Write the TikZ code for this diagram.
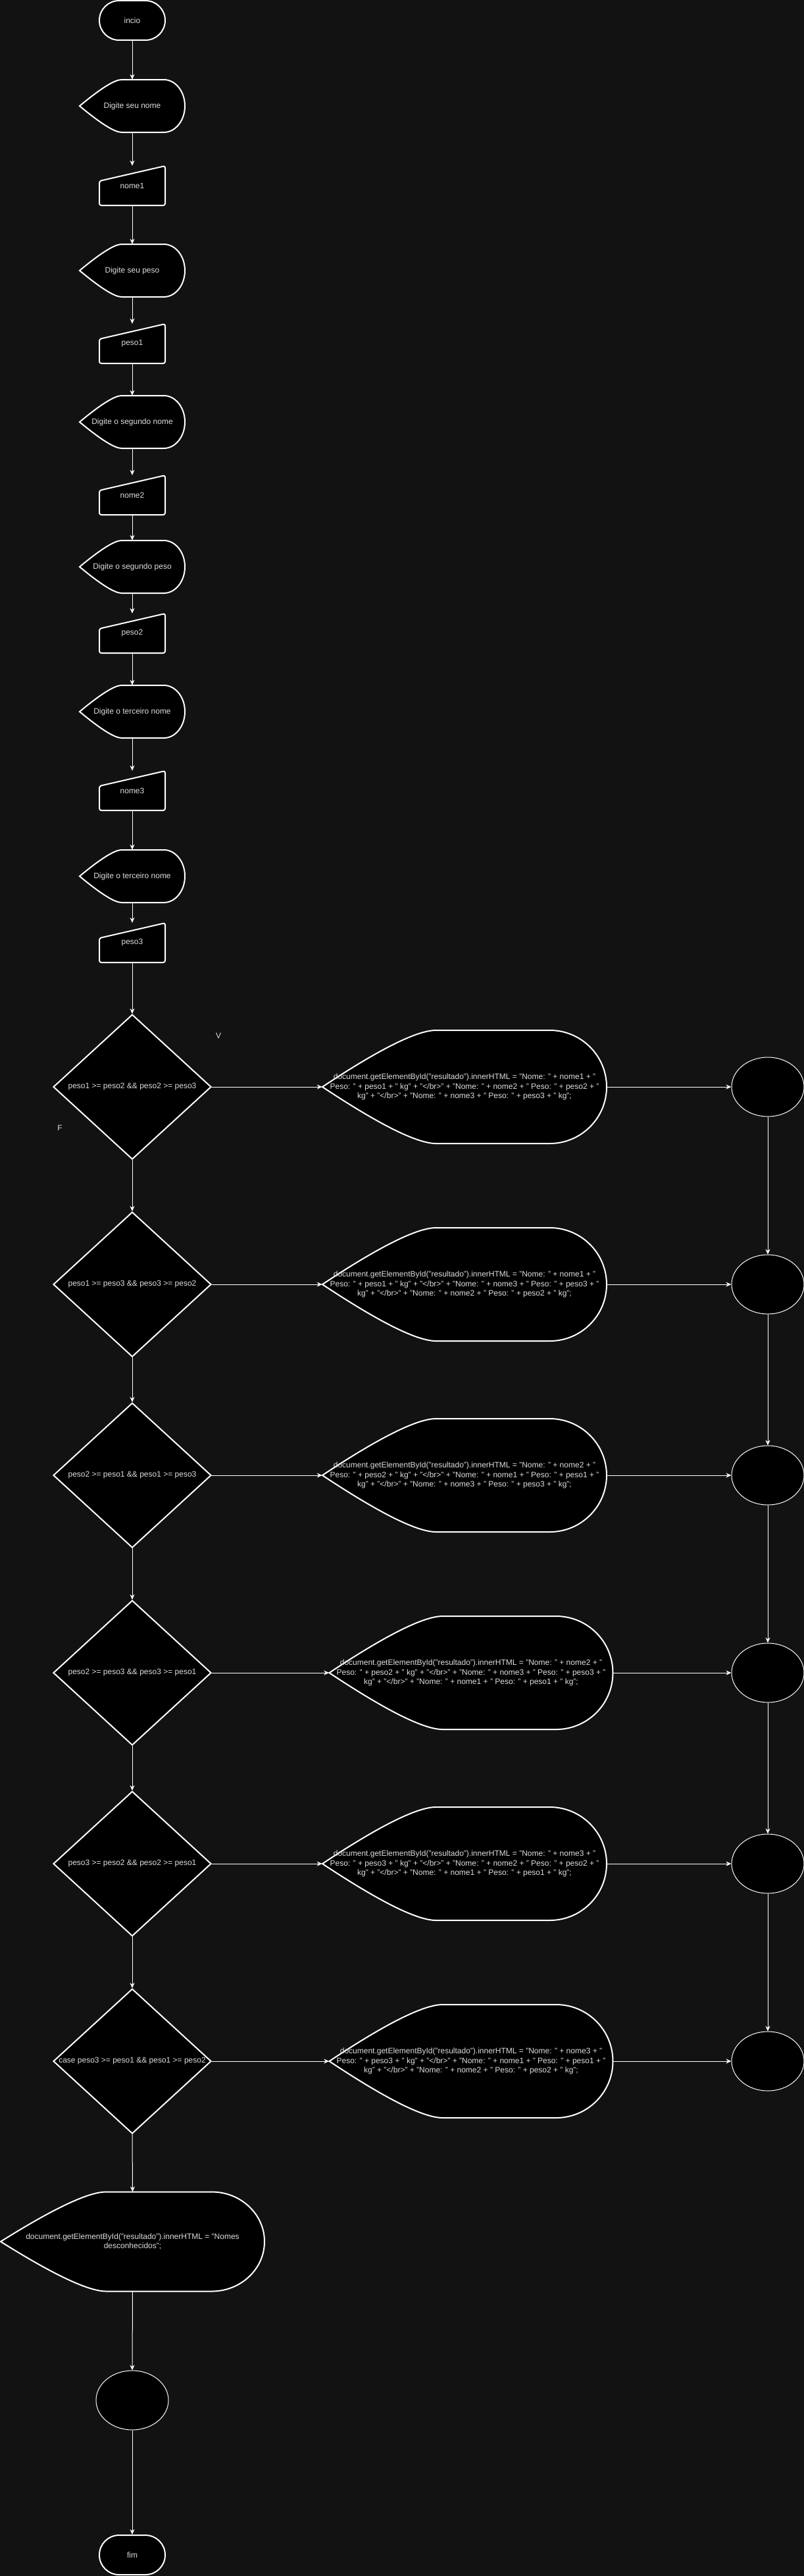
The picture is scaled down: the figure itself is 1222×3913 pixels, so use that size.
\documentclass[tikz,border=0pt]{standalone}
\usepackage{fontspec}
\setmainfont{Liberation Sans}
\usetikzlibrary{shapes.geometric,arrows.meta}

\definecolor{fundo}{HTML}{121212}
\definecolor{texto}{HTML}{DDDDDD}

\tikzset{
    forma/.style={draw=white, fill=black, line width=2pt},
    caixa/.style={inner sep=0pt, text=texto, align=center, font=\fontsize{12}{14.4}\selectfont},
    terminal/.style={caixa, rectangle, rounded corners=30pt, draw=white, fill=black, line width=2pt,
        minimum width=100pt, minimum height=60pt},
    decisao/.style={caixa, diamond, draw=white, fill=black, line width=2pt,
        minimum width=240pt, minimum height=220pt},
    circulo/.style={ellipse, draw=white, fill=black, line width=1pt,
        minimum width=110pt, minimum height=90pt, inner sep=0pt},
    seta/.style={draw=white, line width=1pt, -{Stealth[length=8pt, width=7pt, inset=2.5pt]}},
    rotulo/.style={text=texto, font=\fontsize{12}{14.4}\selectfont},
    res/.style={font=\fontsize{12}{14.2}\selectfont}
}

% display shape: nome, x, y, largura, altura, texto
\newcommand{\tela}[7][]{%
    \filldraw[forma] ({#3-#5/2},#4)
        .. controls ({#3-0.3*#5},{#4-0.333*#6}) and ({#3-0.167*#5},{#4-#6/2}) .. ({#3-0.1*#5},{#4-#6/2})
        -- ({#3+0.3*#5},{#4-#6/2})
        .. controls ({#3+0.41*#5},{#4-#6/2}) and ({#3+#5/2},{#4-0.276*#6}) .. ({#3+#5/2},#4)
        .. controls ({#3+#5/2},{#4+0.276*#6}) and ({#3+0.41*#5},{#4+#6/2}) .. ({#3+0.3*#5},{#4+#6/2})
        -- ({#3-0.1*#5},{#4+#6/2})
        .. controls ({#3-0.167*#5},{#4+#6/2}) and ({#3-0.3*#5},{#4+0.333*#6}) .. cycle;
    \node[caixa, #1, minimum width=#5pt, minimum height=#6pt] (#2) at (#3,#4) {#7};
}

% manual input: nome, x, y, texto
\newcommand{\entrada}[4]{%
    \filldraw[forma, rounded corners=3pt] ({#2-50},{#3-7}) -- ({#2+50},{#3-30})
        -- ({#2+50},{#3+30}) -- ({#2-50},{#3+30}) -- cycle;
    \node[caixa, minimum width=100pt, minimum height=60pt] (#1) at (#2,#3) {#4};
}

\newcommand{\textores}[3]{document.getElementById("resultado").innerHTML = "Nome: " + nome#1 + "\\
    Peso: " + peso#1 + " kg" + "</br>" + "Nome: " + nome#2 + " Peso: " + peso#2 + "\\
    kg" + "</br>" + "Nome: " + nome#3 + " Peso: " + peso#3 + " kg";}

\begin{document}
\begin{tikzpicture}[x=1pt, y=-1pt]
    \fill[fundo] (0,0) rectangle (1222,3913);
    \useasboundingbox (0,0) rectangle (1222,3913);

    \node[terminal] (inicio) at (201,31) {incio};
    \tela{msg1}{201}{161}{160}{80}{Digite seu nome}
    \entrada{nome1}{201}{282}{nome1}
    \tela{msg2}{201}{411}{160}{80}{Digite seu peso}
    \entrada{peso1}{201}{522}{peso1}
    \tela{msg3}{201}{641}{160}{80}{Digite o segundo nome}
    \entrada{nome2}{201}{752}{nome2}
    \tela{msg4}{201}{861}{160}{80}{Digite o segundo peso}
    \entrada{peso2}{201}{962}{peso2}
    \tela{msg5}{201}{1081}{160}{80}{Digite o terceiro nome}
    \entrada{nome3}{201}{1201}{nome3}
    \tela{msg6}{201}{1331}{160}{80}{Digite o terceiro nome}
    \entrada{peso3}{201}{1432}{peso3}

    \node[decisao] (se1) at (201,1651) {\makebox[0pt]{peso1 >= peso2 \&\& peso2 >= peso3}};
    \node[decisao] (se2) at (201,1951) {\makebox[0pt]{peso1 >= peso3 \&\& peso3 >= peso2}};
    \node[decisao] (se3) at (201,2241) {\makebox[0pt]{peso2 >= peso1 \&\& peso1 >= peso3}};
    \node[decisao] (se4) at (201,2541) {\makebox[0pt]{peso2 >= peso3 \&\& peso3 >= peso1}};
    \node[decisao] (se5) at (201,2831) {\makebox[0pt]{peso3 >= peso2 \&\& peso2 >= peso1}};
    \node[decisao] (se6) at (201,3131) {\makebox[0pt]{case peso3 >= peso1 \&\& peso1 >= peso2}};

    \tela[res]{res1}{706}{1651}{432}{172}{\textores{1}{2}{3}}
    \tela[res]{res2}{706}{1951}{432}{172}{\textores{1}{3}{2}}
    \tela[res]{res3}{706}{2241}{432}{172}{\textores{2}{1}{3}}
    \tela[res]{res4}{716}{2541}{431}{172}{\textores{2}{3}{1}}
    \tela[res]{res5}{706}{2831}{432}{172}{\textores{3}{2}{1}}
    \tela[res]{res6}{716}{3131}{431}{172}{\textores{3}{1}{2}}

    \node[circulo] (circ1) at (1167,1651) {};
    \node[circulo] (circ2) at (1167,1951) {};
    \node[circulo] (circ3) at (1167,2241) {};
    \node[circulo] (circ4) at (1167,2541) {};
    \node[circulo] (circ5) at (1167,2831) {};
    \node[circulo] (circ6) at (1167,3131) {};

    \tela{desconhecido}{201.5}{3405}{401}{151}{document.getElementById("resultado").innerHTML = "Nomes\\ desconhecidos";}
    \node[circulo] (circfim) at (201,3646) {};
    \node[terminal] (fim) at (201,3881) {fim};

    \node[rotulo] (verdadeiro) at (332,1573) {V};
    \node[rotulo] (falso) at (91,1713) {F};

    \draw[seta] (inicio.south) -- (msg1.north);
    \draw[seta] (msg1.south) -- (nome1.north);
    \draw[seta] (nome1.south) -- (msg2.north);
    \draw[seta] (msg2.south) -- (peso1.north);
    \draw[seta] (peso1.south) -- (msg3.north);
    \draw[seta] (msg3.south) -- (nome2.north);
    \draw[seta] (nome2.south) -- (msg4.north);
    \draw[seta] (msg4.south) -- (peso2.north);
    \draw[seta] (peso2.south) -- (msg5.north);
    \draw[seta] (msg5.south) -- (nome3.north);
    \draw[seta] (nome3.south) -- (msg6.north);
    \draw[seta] (msg6.south) -- (peso3.north);
    \draw[seta] (peso3.south) -- (se1.north);

    \draw[seta] (se1.south) -- (se2.north);
    \draw[seta] (se2.south) -- (se3.north);
    \draw[seta] (se3.south) -- (se4.north);
    \draw[seta] (se4.south) -- (se5.north);
    \draw[seta] (se5.south) -- (se6.north);
    \draw[seta] (se6.south) -- (desconhecido.north);
    \draw[seta] (desconhecido.south) -- (circfim.north);
    \draw[seta] (circfim.south) -- (fim.north);

    \draw[seta] (se1.east) -- (res1.west);
    \draw[seta] (se2.east) -- (res2.west);
    \draw[seta] (se3.east) -- (res3.west);
    \draw[seta] (se4.east) -- (res4.west);
    \draw[seta] (se5.east) -- (res5.west);
    \draw[seta] (se6.east) -- (res6.west);

    \draw[seta] (res1.east) -- (circ1.west);
    \draw[seta] (res2.east) -- (circ2.west);
    \draw[seta] (res3.east) -- (circ3.west);
    \draw[seta] (res4.east) -- (circ4.west);
    \draw[seta] (res5.east) -- (circ5.west);
    \draw[seta] (res6.east) -- (circ6.west);

    \draw[seta] (circ1.south) -- (circ2.north);
    \draw[seta] (circ2.south) -- (circ3.north);
    \draw[seta] (circ3.south) -- (circ4.north);
    \draw[seta] (circ4.south) -- (circ5.north);
    \draw[seta] (circ5.south) -- (circ6.north);
\end{tikzpicture}
\end{document}
